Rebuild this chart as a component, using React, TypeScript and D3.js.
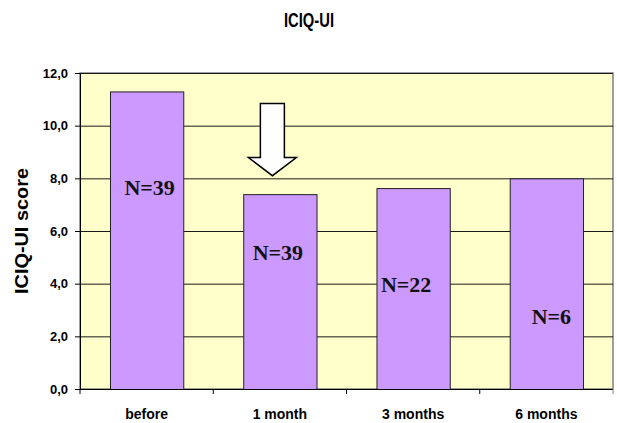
import React, { useEffect, useRef } from 'react';
import * as d3 from 'd3';

// chart data
const categories = ['before', '1 month', '3 months', '6 months'];
const scores = [11.3, 7.4, 7.63, 8.0];
const nLabels = ['N=39', 'N=39', 'N=22', 'N=6'];
const yTicks = [0, 2, 4, 6, 8, 10, 12];

// where the N= labels sit (value on the y axis, px shift from band centre)
const labelLevel = [7.36, 4.9, 3.69, 2.47];
const labelShift = [3, -2, -7, 5];

const App = () => {
  const svgRef = useRef<SVGSVGElement>(null);

  const width = 617;
  const height = 423;
  const margin = { top: 73, right: 4, bottom: 34, left: 80 };

  useEffect(() => {
    const svg = d3.select(svgRef.current);
    svg.selectAll('*').remove();

    const sans = "'Liberation Sans', Arial, sans-serif";
    const serif = "'Liberation Serif', 'Times New Roman', serif";

    const x = d3.scaleBand()
      .domain(categories)
      .range([margin.left, width - margin.right])
      .paddingInner(0.45)
      .paddingOuter(0.225);

    const y = d3.scaleLinear()
      .domain([0, 12])
      .range([height - margin.bottom, margin.top]);

    const fmt = d3.formatLocale({ decimal: ',', thousands: '.', grouping: [3], currency: ['', ''] }).format('.1f');

    svg.append('rect')
      .attr('width', width)
      .attr('height', height)
      .attr('fill', '#ffffff');

    // plot area
    svg.append('rect')
      .attr('x', margin.left)
      .attr('y', margin.top)
      .attr('width', width - margin.left - margin.right)
      .attr('height', height - margin.top - margin.bottom)
      .attr('fill', '#FFFFCC')
      .attr('stroke', '#808080')
      .attr('stroke-width', 1.5);

    // gridlines
    svg.append('g')
      .selectAll('line')
      .data(yTicks.filter(d => d > 0))
      .join('line')
      .attr('x1', margin.left)
      .attr('x2', width - margin.right)
      .attr('y1', d => y(d) + 0.5)
      .attr('y2', d => y(d) + 0.5)
      .attr('stroke', '#1a1a1a')
      .attr('stroke-width', 1);

    // bars
    svg.append('g')
      .selectAll('rect')
      .data(scores)
      .join('rect')
      .attr('x', (d, i) => x(categories[i])! + 0.5)
      .attr('y', d => y(d) + 0.5)
      .attr('width', x.bandwidth())
      .attr('height', d => y(0) - y(d))
      .attr('fill', '#CC99FF')
      .attr('stroke', '#222222')
      .attr('stroke-width', 1);

    // y axis
    const yAxis = svg.append('g')
      .attr('transform', `translate(${margin.left},0)`)
      .call(d3.axisLeft(y).tickValues(yTicks).tickFormat(d => fmt(d as number)).tickSize(5).tickSizeOuter(0).tickPadding(7));
    yAxis.select('.domain').attr('stroke', '#000');
    yAxis.selectAll('line').attr('stroke', '#000');
    yAxis.selectAll('text')
      .attr('font-family', sans)
      .attr('font-weight', 'bold')
      .attr('font-size', 13)
      .attr('fill', '#000');

    // x axis, ticks on category boundaries
    const xg = svg.append('g')
      .attr('transform', `translate(0,${y(0)})`);
    xg.append('line')
      .attr('x1', margin.left)
      .attr('x2', width - margin.right)
      .attr('y1', 0.5)
      .attr('y2', 0.5)
      .attr('stroke', '#000');
    const step = x.step();
    xg.selectAll('line.tk')
      .data(d3.range(categories.length + 1))
      .join('line')
      .attr('class', 'tk')
      .attr('x1', i => margin.left + i * step)
      .attr('x2', i => margin.left + i * step)
      .attr('y1', 0)
      .attr('y2', 5)
      .attr('stroke', i => (i === categories.length ? '#808080' : '#000'));
    xg.selectAll('text')
      .data(categories)
      .join('text')
      .attr('x', d => x(d)! + x.bandwidth() / 2)
      .attr('y', 30)
      .attr('text-anchor', 'middle')
      .attr('font-family', sans)
      .attr('font-weight', 'bold')
      .attr('font-size', 14)
      .text(d => d);

    // N labels
    svg.append('g')
      .selectAll('text')
      .data(nLabels)
      .join('text')
      .attr('x', (d, i) => x(categories[i])! + x.bandwidth() / 2 + labelShift[i])
      .attr('y', (d, i) => y(labelLevel[i]))
      .attr('text-anchor', 'middle')
      .attr('font-family', serif)
      .attr('font-weight', 'bold')
      .attr('font-size', 22)
      .attr('fill', '#111')
      .text(d => d);

    // arrow pointing down on the 1 month bar
    const ax = x(categories[1])! + x.bandwidth() / 2 - 7.5;
    const top = y(10.84), neck = y(8.79), tip = y(8.1);
    const arrow = [
      [ax - 12, top], [ax + 12, top], [ax + 12, neck], [ax + 24, neck],
      [ax, tip], [ax - 24, neck], [ax - 12, neck]
    ] as [number, number][];
    svg.append('path')
      .attr('d', d3.line()(arrow) + 'Z')
      .attr('fill', '#ffffff')
      .attr('stroke', '#000')
      .attr('stroke-width', 1.5)
      .attr('stroke-linejoin', 'miter');

    // title
    svg.append('text')
      .attr('x', 309)
      .attr('y', 27)
      .attr('text-anchor', 'middle')
      .attr('font-family', sans)
      .attr('font-weight', 'bold')
      .attr('font-size', 20)
      .attr('textLength', 50)
      .attr('lengthAdjust', 'spacingAndGlyphs')
      .text('ICIQ-UI');

    // y label
    svg.append('text')
      .attr('transform', `translate(28,${231}) rotate(-90)`)
      .attr('text-anchor', 'middle')
      .attr('font-family', sans)
      .attr('font-weight', 'bold')
      .attr('font-size', 18)
      .attr('textLength', 126)
      .attr('lengthAdjust', 'spacingAndGlyphs')
      .text('ICIQ-UI score');
  }, []);

  return (
    <svg
      ref={svgRef}
      width={width}
      height={height}
      style={{ position: 'absolute', left: 0, top: 0, display: 'block' }}
    />
  );
};

export default App;
